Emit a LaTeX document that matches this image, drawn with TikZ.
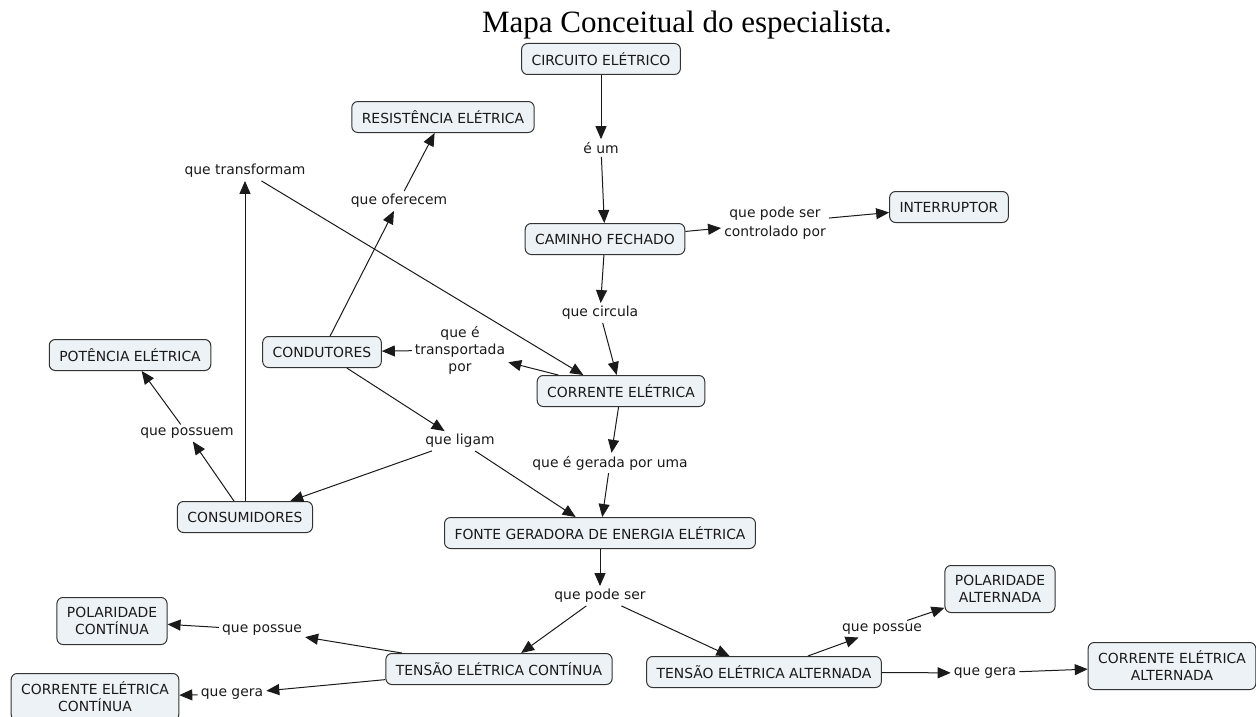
\documentclass[tikz,border=0pt]{standalone}
\usepackage{fontspec}
\setmainfont{DejaVu Sans}
\newfontfamily\titlefont{Liberation Serif}
\usetikzlibrary{arrows.meta}
\definecolor{boxfill}{HTML}{EDF2F6}
\definecolor{boxdraw}{HTML}{333333}
\definecolor{ink}{HTML}{1A1A1A}
\tikzset{
 concept/.style={draw=boxdraw, fill=boxfill, rounded corners=6pt, line width=1pt, inner xsep=10pt, inner ysep=0pt, minimum height=31pt, align=center, font=\fontsize{13.9}{17}\selectfont, text=ink},
 concept2/.style={concept, inner ysep=7pt, minimum height=47pt},
 lbl/.style={inner sep=3pt, align=center, font=\fontsize{13.9}{17}\selectfont, text=ink},
 link/.style={line width=1pt, draw=ink, -{Triangle[length=13pt,width=11pt]}},
}
\begin{document}
\begin{tikzpicture}[x=1pt,y=-1pt]
\useasboundingbox (0,0) rectangle (1256,717);
\clip (0,0) rectangle (1256,717);
\node[font=\titlefont\fontsize{31}{37}\selectfont, anchor=base, inner sep=0pt] (title) at (687,33) {Mapa Conceitual do especialista.};
% concepts
\node[concept] (circ) at (601,59) {CIRCUITO ELÉTRICO};
\node[concept] (res) at (443,117) {RESISTÊNCIA ELÉTRICA};
\node[concept] (cam) at (605,239) {CAMINHO FECHADO};
\node[concept] (intr) at (949,207) {INTERRUPTOR};
\node[concept] (cond) at (322,352) {CONDUTORES};
\node[concept] (pot) at (130,355) {POTÊNCIA ELÉTRICA};
\node[concept] (corr) at (621,391) {CORRENTE ELÉTRICA};
\node[concept] (cons) at (245,517) {CONSUMIDORES};
\node[concept] (fonte) at (600,533) {FONTE GERADORA DE ENERGIA ELÉTRICA};
\node[concept2] (polc) at (112,621) {POLARIDADE\\CONTÍNUA};
\node[concept2] (pola) at (1000,589) {POLARIDADE\\ALTERNADA};
\node[concept] (tc) at (499,669) {TENSÃO ELÉTRICA CONTÍNUA};
\node[concept] (ta) at (764,672) {TENSÃO ELÉTRICA ALTERNADA};
\node[concept2] (cc) at (95,697) {CORRENTE ELÉTRICA\\CONTÍNUA};
\node[concept2] (ca) at (1172,666) {CORRENTE ELÉTRICA\\ALTERNADA};
% linking phrases
\node[lbl] (l1) at (601,148) {é um};
\node[lbl] (l2) at (775,223) {que pode ser\\[2pt]controlado por};
\node[lbl] (l3) at (600,313) {que circula};
\node[lbl] (l4) at (460,350) {que é\\transportada\\por};
\node[lbl] (l5) at (610,463) {que é gerada por uma};
\node[lbl] (l6) at (399,201) {que oferecem};
\node[lbl] (l7) at (460,441) {que ligam};
\node[lbl] (l8) at (187,433) {que possuem};
\node[lbl] (l9) at (245,171) {que transformam};
\node[lbl] (l10) at (600,596) {que pode ser};
\node[lbl] (l11) at (262,630) {que possue};
\node[lbl] (l12) at (232,694) {que gera};
\node[lbl] (l13) at (882,629) {que possue};
\node[lbl] (l14) at (985,673) {que gera};
% connectors
\draw[link] (circ) -- (l1);
\draw[link] (l1) -- (cam);
\draw[link] (cam) -- (l2);
\draw[link] (l2) -- (intr);
\draw[link] (cam) -- (l3);
\draw[link] (l3) -- (corr);
\draw[link] (corr) -- (l4);
\draw[link] (l4) -- (cond);
\draw[link] (corr) -- (l5);
\draw[link] (l5) -- (fonte);
\draw[link] (cond) -- (l6);
\draw[link] (l6) -- (res);
\draw[link] (cond) -- (l7);
\draw[link] (l7) -- (cons);
\draw[link] (l7) -- (fonte);
\draw[link] (cons) -- (l8);
\draw[link] (l8) -- (pot);
\draw[link] (cons) -- (l9);
\draw[link] (l9) -- (corr.157);
\draw[link] (fonte) -- (l10);
\draw[link] (l10) -- (tc);
\draw[link] (l10) -- (ta);
\draw[link] (tc) -- (l11);
\draw[link] (l11) -- (polc);
\draw[link] (tc) -- (l12);
\draw[link] (l12) -- (cc);
\draw[link] (ta) -- (l13);
\draw[link] (l13) -- (pola);
\draw[link] (ta) -- (l14);
\draw[link] (l14) -- (ca);
\end{tikzpicture}
\end{document}
